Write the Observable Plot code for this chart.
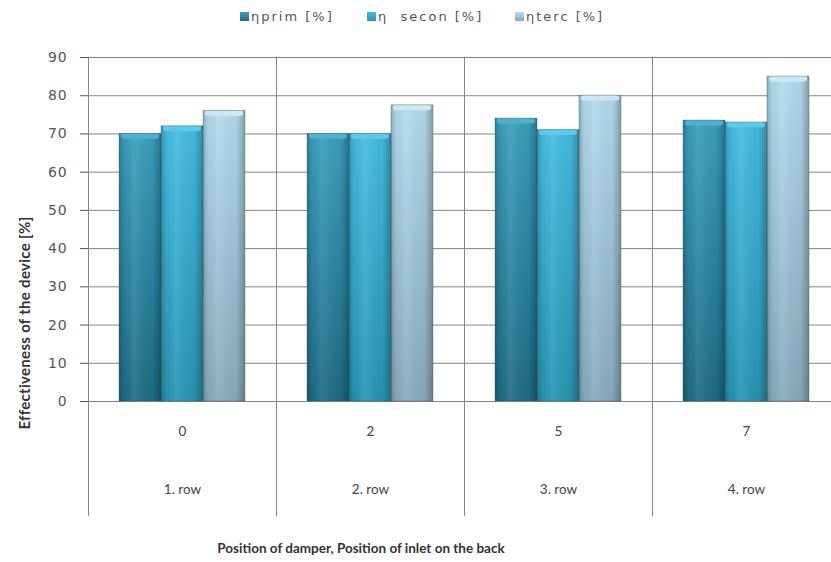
<!DOCTYPE html>
<html><head><meta charset="utf-8">
<script src="https://cdn.jsdelivr.net/npm/d3@7"></script>
<script src="https://cdn.jsdelivr.net/npm/@observablehq/plot@0.6"></script>
<style>
html,body{margin:0;padding:0;background:#fff;overflow:hidden;}
#wrap{position:relative;width:831px;height:562px;overflow:hidden;}
#chart{position:absolute;left:0;top:0;width:840px;}
#chart svg{max-width:none !important;}
.legend{position:absolute;top:9px;left:0;font-family:"DejaVu Sans",sans-serif;font-size:13px;letter-spacing:2px;color:#555;white-space:pre;}
.legend .item{position:absolute;top:0;display:flex;align-items:center;}
.legend .sw{width:9px;height:9px;margin-right:2px;display:inline-block;}
.ytitle{position:absolute;left:24px;top:323px;transform:translate(-50%,-50%) rotate(-90deg);font-family:Lato,sans-serif;font-weight:bold;font-size:15px;letter-spacing:0.3px;color:#333;white-space:nowrap;}
.xtitle{position:absolute;left:361px;top:548px;transform:translate(-50%,-50%);font-family:Lato,sans-serif;font-weight:bold;font-size:13.5px;color:#333;white-space:nowrap;}
</style></head><body>
<div id="wrap">
  <div id="chart"></div>
  <div class="legend" id="legend"></div>
  <div class="ytitle">Effectiveness of the device [%]</div>
  <div class="xtitle">Position of damper, Position of inlet on the back</div>
</div>
<script>
// ---- data ----
const categories = ["0", "2", "5", "7"];
const rowLabels = ["1. row", "2. row", "3. row", "4. row"];
const seriesNames = ["ηprim [%]", "η  secon [%]", "ηterc [%]"];
const prim  = [70, 70, 74, 73.5];
const secon = [72, 70, 71, 73];
const terc  = [76, 77.5, 80, 85];
const yTicks = [0, 10, 20, 30, 40, 50, 60, 70, 80, 90];

// ---- styles ----
const gradIds = ["gPrim", "gSecon", "gTerc"];
const topColors = ["#3aa0bf", "#45bde2", "#b4ddee"];
const bottomColors = ["#1d6c84", "#2795b2", "#88abbd"];
const capColors = ["#4db0cc", "#5ccbea", "#cbe9f5"];
const legendX = [240, 367, 515];

const valuesBySeries = [prim, secon, terc];
const rows = categories.flatMap((c, i) =>
  seriesNames.map((s, j) => ({cat: c, row: rowLabels[i], series: s, value: valuesBySeries[j][i]}))
);

const plot = Plot.plot({
  width: 840,
  height: 562,
  marginLeft: 88,
  marginRight: 0,
  marginTop: 57,
  marginBottom: 161,
  style: {fontFamily: "DejaVu Sans, sans-serif", fontSize: "14px", color: "#555", background: "transparent", overflow: "visible", maxWidth: "none"},
  facet: {data: rows, x: "cat"},
  fx: {domain: categories, padding: 0, axis: null},
  x: {domain: seriesNames, paddingInner: 0, paddingOuter: 0.73, axis: null},
  y: {domain: [0, 90], ticks: yTicks, tickSize: 8, tickPadding: 13, label: null},
  color: {domain: seriesNames, range: gradIds.map(id => `url(#${id})`)},
  marks: [
    Plot.ruleY(yTicks, {stroke: "#858585", strokeWidth: 1}),
    Plot.frame({anchor: "left", insetBottom: -114, stroke: "#858585"}),
    Plot.barY(rows, {x: "series", y: "value", fill: "series"}),
    Plot.barY(rows, {x: "series", y: "value", fill: "url(#shade)"}),
    ...seriesNames.map((s, j) => Plot.barY(rows, {
      filter: d => d.series === s, x: "series",
      y1: d => d.value - 1.4, y2: "value",
      fill: capColors[j], insetLeft: 2, insetRight: 2, rx: 3
    })),
    Plot.barY(rows, {x: "series", y: "value", fill: "none", stroke: "#3c4a52", strokeOpacity: 0.35}),
    Plot.text(rows, {filter: d => d.series === seriesNames[0], frameAnchor: "bottom", dy: 34, text: "cat",
      fontFamily: "Lato, sans-serif", fontSize: 13.5, fill: "#444"}),
    Plot.text(rows, {filter: d => d.series === seriesNames[0], frameAnchor: "bottom", dy: 92, text: "row",
      fontFamily: "Lato, sans-serif", fontSize: 13.5, fill: "#444"})
  ]
});

// gradients
const ns = "http://www.w3.org/2000/svg";
const defs = document.createElementNS(ns, "defs");
function mkGrad(id, vertical, stops) {
  const g = document.createElementNS(ns, "linearGradient");
  g.setAttribute("id", id);
  g.setAttribute("x1", "0"); g.setAttribute("y1", "0");
  g.setAttribute("x2", vertical ? "0" : "1"); g.setAttribute("y2", vertical ? "1" : "0");
  stops.forEach(([o, c, op]) => {
    const st = document.createElementNS(ns, "stop");
    st.setAttribute("offset", o);
    st.setAttribute("stop-color", c);
    st.setAttribute("stop-opacity", op == null ? 1 : op);
    g.appendChild(st);
  });
  defs.appendChild(g);
}
gradIds.forEach((id, j) => mkGrad(id, true, [[0, topColors[j]], [1, bottomColors[j]]]));
mkGrad("shade", false, [
  [0, "#000", 0.22], [0.12, "#000", 0.04], [0.35, "#fff", 0.08],
  [0.8, "#000", 0.04], [1, "#000", 0.28]
]);
plot.insertBefore(defs, plot.firstChild);
// slight letter spacing on y tick labels like the original
plot.querySelectorAll("[aria-label='y-axis tick label'] text, [aria-label='y-axis'] text").forEach(t => t.setAttribute("letter-spacing", "0.8"));
document.getElementById("chart").appendChild(plot);

// legend
const legend = document.getElementById("legend");
seriesNames.forEach((s, j) => {
  const it = document.createElement("div");
  it.className = "item";
  it.style.left = legendX[j] + "px";
  const sw = document.createElement("span");
  sw.className = "sw";
  sw.style.background = `linear-gradient(${topColors[j]}, ${bottomColors[j]})`;
  it.appendChild(sw);
  it.appendChild(document.createTextNode(s));
  legend.appendChild(it);
});
</script>
</body></html>
